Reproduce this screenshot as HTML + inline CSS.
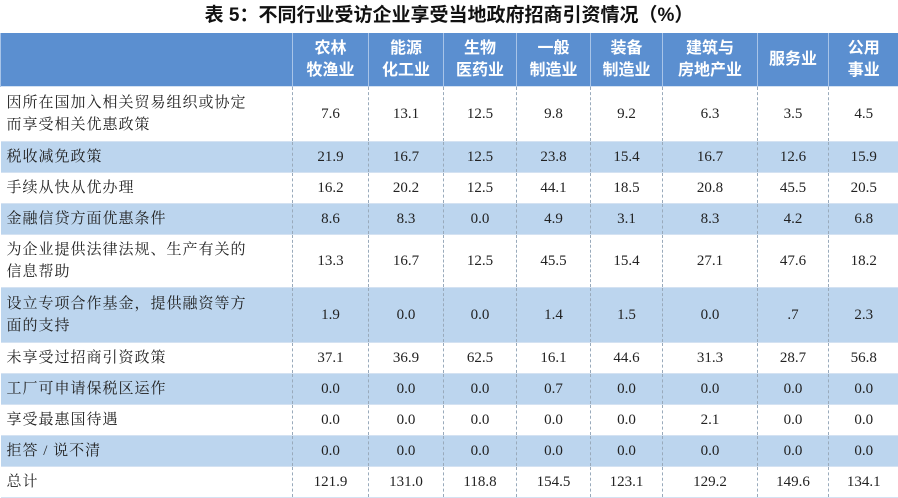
<!DOCTYPE html><html><head><meta charset="utf-8"><style>
body{margin:0;width:898px;height:495px;background:#fff;overflow:hidden;font-family:"Liberation Serif","Noto Serif CJK SC",serif;}
.t{position:absolute;top:0;left:0;width:898px;height:32px;text-align:center;font:bold 19px/32px "Liberation Sans","Noto Sans CJK SC",sans-serif;color:#111;}
table{position:absolute;top:33px;left:0;border-collapse:collapse;width:898px;table-layout:fixed;}
td{padding:0;text-align:center;font-size:15px;color:#222;border-left:1px dashed #9ab;}
td:first-child{text-align:left;padding-left:6px;border-left:none;font-size:15px;line-height:22px;letter-spacing:1px;}
tr.h td{background:#5b8fd0;color:#fff;font:bold 16px/22px "Liberation Sans","Noto Sans CJK SC",sans-serif;height:53px;border-left:1px solid #a8c4e8;}
tr.b td{background:#bcd5ee;}
tr{border-bottom:1px solid #d4e2f2;}
</style></head><body>
<div class="t">表 5：不同行业受访企业享受当地政府招商引资情况（%）</div>
<table>
<col style="width:292px"><col style="width:76px"><col style="width:75px"><col style="width:73px"><col style="width:74px"><col style="width:72px"><col style="width:95px"><col style="width:71px"><col style="width:70px">
<tr class="h"><td></td><td>农林<br>牧渔业</td><td>能源<br>化工业</td><td>生物<br>医药业</td><td>一般<br>制造业</td><td>装备<br>制造业</td><td>建筑与<br>房地产业</td><td>服务业</td><td>公用<br>事业</td></tr>
<tr style="height:55px"><td>因所在国加入相关贸易组织或协定<br>而享受相关优惠政策</td><td>7.6</td><td>13.1</td><td>12.5</td><td>9.8</td><td>9.2</td><td>6.3</td><td>3.5</td><td>4.5</td></tr>
<tr class="b" style="height:31px"><td>税收减免政策</td><td>21.9</td><td>16.7</td><td>12.5</td><td>23.8</td><td>15.4</td><td>16.7</td><td>12.6</td><td>15.9</td></tr>
<tr style="height:31px"><td>手续从快从优办理</td><td>16.2</td><td>20.2</td><td>12.5</td><td>44.1</td><td>18.5</td><td>20.8</td><td>45.5</td><td>20.5</td></tr>
<tr class="b" style="height:31px"><td>金融信贷方面优惠条件</td><td>8.6</td><td>8.3</td><td>0.0</td><td>4.9</td><td>3.1</td><td>8.3</td><td>4.2</td><td>6.8</td></tr>
<tr style="height:53px"><td>为企业提供法律法规、生产有关的<br>信息帮助</td><td>13.3</td><td>16.7</td><td>12.5</td><td>45.5</td><td>15.4</td><td>27.1</td><td>47.6</td><td>18.2</td></tr>
<tr class="b" style="height:55px"><td>设立专项合作基金，提供融资等方<br>面的支持</td><td>1.9</td><td>0.0</td><td>0.0</td><td>1.4</td><td>1.5</td><td>0.0</td><td>.7</td><td>2.3</td></tr>
<tr style="height:31px"><td>未享受过招商引资政策</td><td>37.1</td><td>36.9</td><td>62.5</td><td>16.1</td><td>44.6</td><td>31.3</td><td>28.7</td><td>56.8</td></tr>
<tr class="b" style="height:31px"><td>工厂可申请保税区运作</td><td>0.0</td><td>0.0</td><td>0.0</td><td>0.7</td><td>0.0</td><td>0.0</td><td>0.0</td><td>0.0</td></tr>
<tr style="height:31px"><td>享受最惠国待遇</td><td>0.0</td><td>0.0</td><td>0.0</td><td>0.0</td><td>0.0</td><td>2.1</td><td>0.0</td><td>0.0</td></tr>
<tr class="b" style="height:31px"><td>拒答 / 说不清</td><td>0.0</td><td>0.0</td><td>0.0</td><td>0.0</td><td>0.0</td><td>0.0</td><td>0.0</td><td>0.0</td></tr>
<tr style="height:31px"><td>总计</td><td>121.9</td><td>131.0</td><td>118.8</td><td>154.5</td><td>123.1</td><td>129.2</td><td>149.6</td><td>134.1</td></tr>
</table></body></html>
